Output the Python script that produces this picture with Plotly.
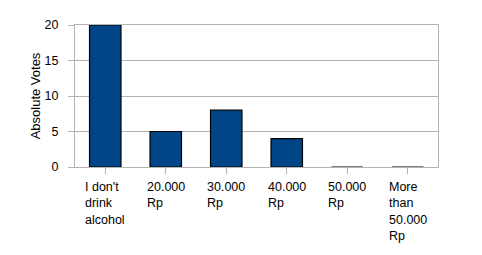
import plotly.graph_objects as go

categories = ["I don't drink alcohol", "20.000 Rp", "30.000 Rp", "40.000 Rp", "50.000 Rp", "More than 50.000 Rp"]
tick_labels = ["I don't<br>drink<br>alcohol", "20.000<br>Rp", "30.000<br>Rp", "40.000<br>Rp", "50.000<br>Rp", "More<br>than<br>50.000<br>Rp"]
votes = [20, 5, 8, 4, 0, 0]
y_ticks = [0, 5, 10, 15, 20]

FONT = "Liberation Sans, Arial, sans-serif"
GRID = "#b3b3b3"

fig = go.Figure(go.Bar(
    x=categories, y=votes,
    marker=dict(color="#004586", line=dict(color="black", width=1.2)),
    width=0.52,
))

for c, t in zip(categories, tick_labels):
    fig.add_annotation(x=c, y=0, xref="x", yref="paper", yanchor="top", xanchor="center",
                       text=t, align="left", showarrow=False, yshift=-11,
                       font=dict(family=FONT, size=12.5, color="black"))

fig.update_layout(
    width=482, height=255,
    margin=dict(l=75, r=44, t=25, b=88),
    paper_bgcolor="white", plot_bgcolor="white",
    showlegend=False,
    font=dict(family=FONT, size=12, color="black"),
    bargap=0.48,
)
fig.update_xaxes(showticklabels=False, ticks="outside", ticklen=6, tickcolor=GRID,
                 showline=True, linecolor=GRID, linewidth=1, mirror=True, showgrid=False)
fig.update_yaxes(range=[0, 20], tickvals=y_ticks, ticks="outside", ticklen=6, tickcolor=GRID,
                 showline=True, linecolor=GRID, linewidth=1, mirror=True,
                 showgrid=True, gridcolor=GRID, gridwidth=1, zeroline=False,
                 ticklabelstandoff=7,
                 title=dict(text="Absolute Votes", standoff=1, font=dict(size=13)),
                 tickfont=dict(size=12.5))

fig.write_html("out.html")
